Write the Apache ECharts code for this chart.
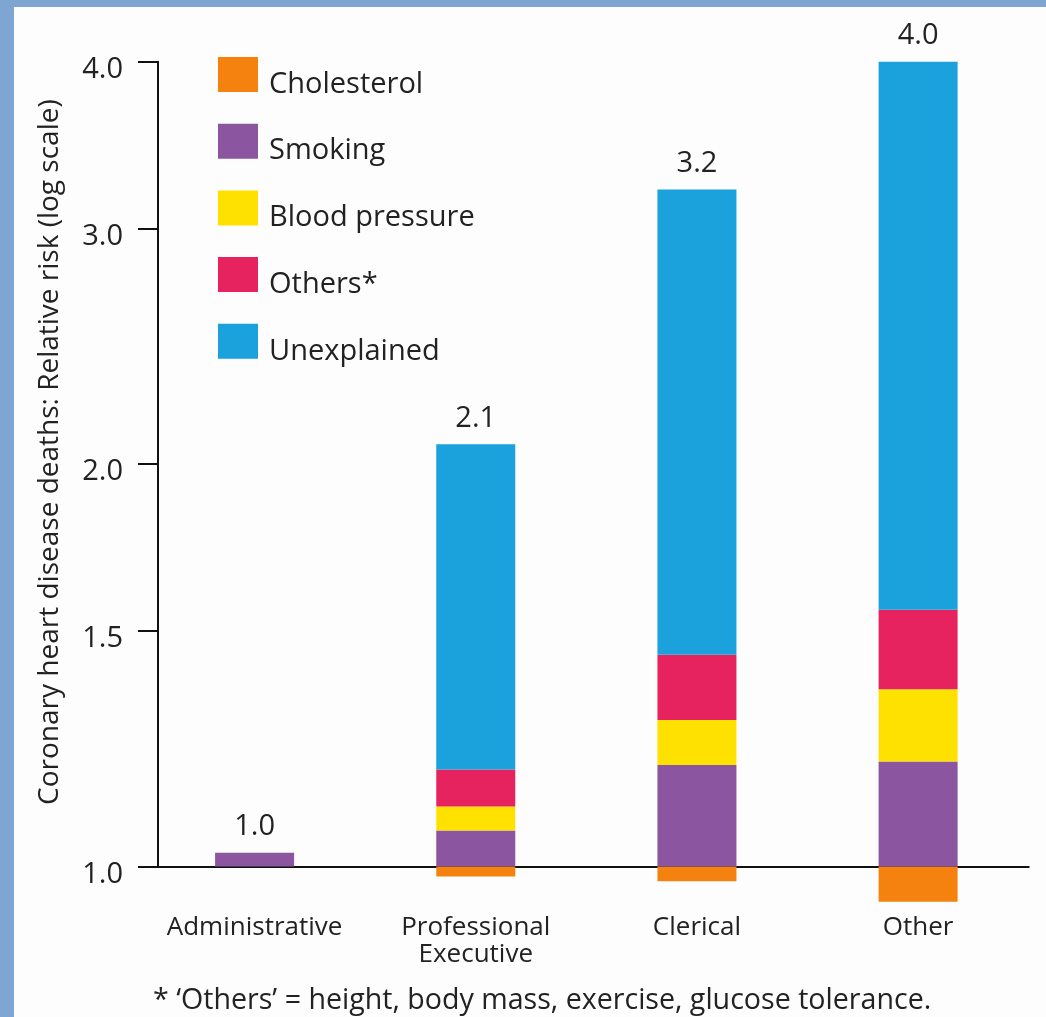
<!DOCTYPE html>
<html><head><meta charset="utf-8">
<script src="https://cdn.jsdelivr.net/npm/echarts@6/dist/echarts.min.js"></script>
<style>
html,body{margin:0;padding:0;background:#7fa6d2;width:1046px;height:1017px;overflow:hidden}
#chart{position:absolute;left:14px;top:7px;width:1032px;height:1010px;background:#fdfdfd}
</style></head><body><div id="chart"></div>
<script>
const categories = ['Administrative', 'Professional\nExecutive', 'Clerical', 'Other'];
// Relative-risk level reached at each segment edge (log scale, 1.0 = baseline)
const cholesterolBottom = [1.0, 0.983, 0.975, 0.941];
const smokingTop = [1.024, 1.064, 1.191, 1.198];
const bloodPressureTop = [1.024, 1.109, 1.287, 1.357];
const othersTop = [1.024, 1.182, 1.440, 1.556];
const unexplainedTop = [1.024, 2.07, 3.21, 4.0];
const totalLabels = ['1.0', '2.1', '3.2', '4.0'];
const yTicks = [1.0, 1.5, 2.0, 3.0, 4.0];
const footnote = "* \u2018Others\u2019 = height, body mass, exercise, glucose tolerance.";

const FONT = 'Open Sans';
const TXT = '#222';
const ln = Math.log;
function diffs(top, prev) { return top.map((v, i) => ln(v) - ln(prev[i])); }
const ones = categories.map(() => 1);

const chart = echarts.init(document.getElementById('chart'));
const base = { type: 'bar', stack: 'risk', barWidth: 79, clip: false };
chart.setOption({
  animation: false,
  backgroundColor: 'transparent',
  textStyle: { fontFamily: FONT },
  grid: { left: 130, top: 54.7, width: 884.7, height: 804.8 },
  title: {
    text: footnote, left: 134, top: 974,
    textStyle: { fontFamily: FONT, fontSize: 28.6, fontWeight: 'normal', color: TXT }
  },
  legend: {
    orient: 'vertical', left: 199, top: 45, itemWidth: 40, itemHeight: 35, itemGap: 24.7,
    icon: 'rect',
    data: ['Cholesterol', 'Smoking', 'Blood pressure', 'Others*', 'Unexplained'],
    formatter: n => '{t|' + n + '}',
    textStyle: {
      fontFamily: FONT, fontSize: 29, color: TXT,
      rich: { t: { fontFamily: FONT, fontSize: 29, color: TXT, padding: [20, 0, 0, 6] } }
    }
  },
  xAxis: {
    type: 'category', data: categories,
    axisLine: { lineStyle: { color: '#111', width: 2 } },
    axisTick: { show: false },
    axisLabel: { fontFamily: FONT, fontSize: 26, color: TXT, margin: 48, lineHeight: 27, interval: 0 }
  },
  yAxis: {
    type: 'value', min: 0, max: ln(4), offset: -14,
    name: 'Coronary heart disease deaths: Relative risk (log scale)',
    nameLocation: 'middle', nameGap: 94,
    nameTextStyle: { fontFamily: FONT, fontSize: 28, color: TXT, padding: [0, 0, 0, 24] },
    axisLine: { show: true, lineStyle: { color: '#111', width: 2 } },
    axisTick: { show: true, length: 20, customValues: yTicks.map(ln), lineStyle: { color: '#111', width: 2 } },
    axisLabel: {
      customValues: yTicks.map(ln), fontFamily: FONT, fontSize: 29, color: TXT, margin: 35,
      verticalAlign: 'top', lineHeight: 16,
      formatter: v => Math.exp(v).toFixed(1)
    },
    splitLine: { show: false }
  },
  series: [
    Object.assign({}, base, { name: 'Cholesterol', itemStyle: { color: '#f5820f' }, data: diffs(cholesterolBottom, ones) }),
    Object.assign({}, base, { name: 'Smoking', itemStyle: { color: '#8b55a0' }, data: diffs(smokingTop, ones) }),
    Object.assign({}, base, { name: 'Blood pressure', itemStyle: { color: '#ffe100' }, data: diffs(bloodPressureTop, smokingTop) }),
    Object.assign({}, base, { name: 'Others*', itemStyle: { color: '#e6235e' }, data: diffs(othersTop, bloodPressureTop) }),
    Object.assign({}, base, {
      name: 'Unexplained', itemStyle: { color: '#1ba1dc' }, data: diffs(unexplainedTop, othersTop),
      label: {
        show: true, position: 'top', distance: 11, fontFamily: FONT, fontSize: 29, color: TXT,
        formatter: p => totalLabels[p.dataIndex]
      }
    })
  ]
});
</script></body></html>
